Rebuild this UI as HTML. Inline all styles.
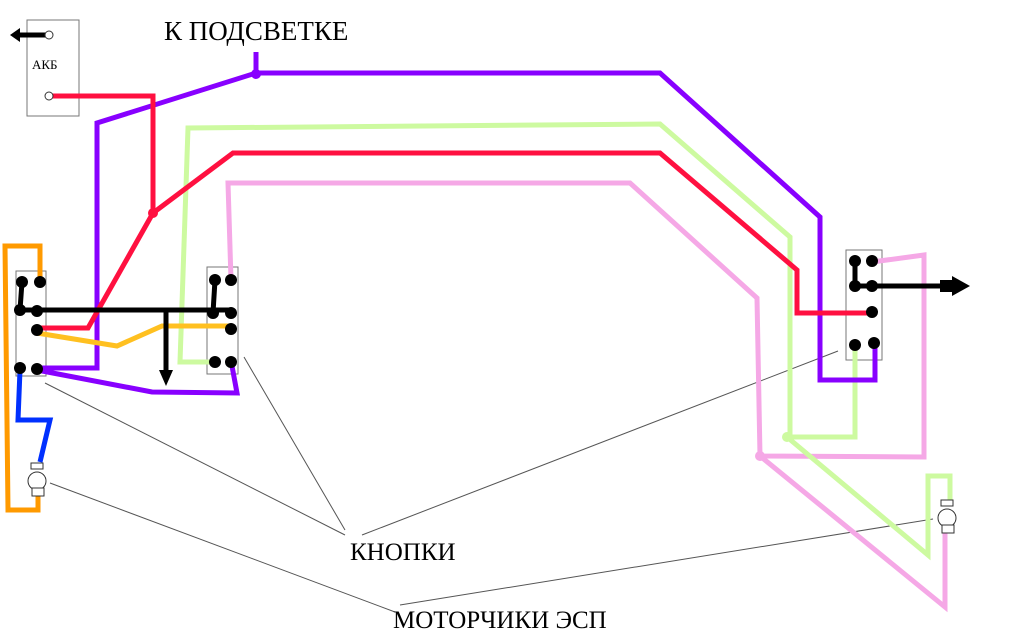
<!DOCTYPE html>
<html><head><meta charset="utf-8"><style>html,body{margin:0;padding:0;background:#fff;width:1024px;height:640px;overflow:hidden}</style></head>
<body>
<svg width="1024" height="640" xmlns="http://www.w3.org/2000/svg" font-family="Liberation Serif, serif">
<g fill="none" stroke-linejoin="miter">
<rect x="27" y="20" width="52" height="96" stroke="#777" stroke-width="1"/>
<rect x="16" y="271" width="30" height="105" stroke="#777" stroke-width="1"/>
<rect x="207" y="267" width="31" height="107" stroke="#777" stroke-width="1"/>
<rect x="846" y="250" width="36" height="110" stroke="#777" stroke-width="1"/>
<g stroke="#555" stroke-width="1">
<line x1="45" y1="383" x2="345" y2="535"/>
<line x1="244" y1="357" x2="345" y2="530"/>
<line x1="838" y1="351" x2="362" y2="535"/>
<line x1="50" y1="483" x2="395" y2="612"/>
<line x1="933" y1="519" x2="400" y2="605"/>
</g>
<g stroke-width="5">
<polyline stroke="#f5a8e6" points="231,280 228,183 630,183 757,298 760,456 924,457 924,255 872,262"/>
<polyline stroke="#f5a8e6" points="760,456 945,607 945,528"/>
<polyline stroke="#cdfaa0" points="215,362 180,362 188,128 660,124 790,237 790,437 855,437 855,346"/>
<polyline stroke="#cdfaa0" points="787,437 928,555 928,476 950,476 950,500"/>
<polyline stroke="#8800ff" points="256,52 256,73"/>
<polyline stroke="#8800ff" points="256,73 97,123 97,368 37,368"/>
<polyline stroke="#8800ff" points="256,73 660,73 820,217 820,380 875,380 875,343"/>
<polyline stroke="#8800ff" points="37,370 152,392 237,393 232,366"/>
<polyline stroke="#ff1040" points="49,96 153,96 153,213"/>
<polyline stroke="#ff1040" points="153,213 233,153 660,153 797,270 797,313 872,313"/>
<polyline stroke="#ff1040" points="153,213 88,328 37,328"/>
<polyline stroke="#ffc020" points="37,333 117,346 162,326 231,326"/>
<polyline stroke="#ff9a00" points="40,282 40,246 5,246 8,510 38,510 38,492"/>
<polyline stroke="#0030ff" points="20,370 18,420 50,420 40,462"/>
<polyline stroke="#000" points="22,282 20,310 230,310"/>
<polyline stroke="#000" points="213,313 215,280"/>
<polyline stroke="#000" points="166,310 166,370"/>
<polyline stroke="#000" points="855,261 855,286 940,286"/>
<polyline stroke="#000" points="49,35 20,35"/>
</g>
</g>
<polygon points="166,386 159,370 173,370" fill="#000"/>
<polygon points="970,286 952,276 952,296" fill="#000"/>
<rect x="940" y="280" width="14" height="12" fill="#000"/>
<polygon points="10,35 20,28 20,42" fill="#000"/>
<circle cx="49" cy="35" r="4" fill="#fff" stroke="#333"/>
<circle cx="49" cy="96" r="4" fill="#fff" stroke="#333"/>
<circle cx="256" cy="74" r="5" fill="#8800ff"/>
<circle cx="153" cy="213" r="5" fill="#ff1040"/>
<circle cx="787" cy="437" r="5" fill="#cdfaa0"/>
<circle cx="760" cy="456" r="5" fill="#f5a8e6"/>
<g fill="#000">
<circle cx="22" cy="282" r="6"/><circle cx="40" cy="282" r="6"/><circle cx="20" cy="310" r="6"/><circle cx="37" cy="311" r="6"/><circle cx="37" cy="330" r="6"/><circle cx="20" cy="368" r="6"/><circle cx="37" cy="369" r="6"/>
<circle cx="215" cy="280" r="6"/><circle cx="231" cy="280" r="6"/><circle cx="213" cy="313" r="6"/><circle cx="231" cy="313" r="6"/><circle cx="231" cy="329" r="6"/><circle cx="215" cy="362" r="6"/><circle cx="231" cy="362" r="6"/>
<circle cx="855" cy="261" r="6"/><circle cx="872" cy="261" r="6"/><circle cx="855" cy="286" r="6"/><circle cx="872" cy="286" r="6"/><circle cx="872" cy="312" r="6"/><circle cx="855" cy="345" r="6"/><circle cx="874" cy="343" r="6"/>
</g>
<g fill="#fff" stroke="#333" stroke-width="1">
<rect x="31" y="463" width="12" height="6"/><circle cx="37" cy="481" r="9"/><rect x="32" y="488" width="12" height="8"/>
<rect x="941" y="500" width="12" height="6"/><circle cx="947" cy="518" r="9"/><rect x="942" y="525" width="12" height="8"/>
</g>
<text x="32" y="69" font-size="13">АКБ</text>
<text x="164" y="40" font-size="27">К ПОДСВЕТКЕ</text>
<text x="350" y="560" font-size="25">КНОПКИ</text>
<text x="393" y="628" font-size="25">МОТОРЧИКИ ЭСП</text>
</svg>
</body></html>
